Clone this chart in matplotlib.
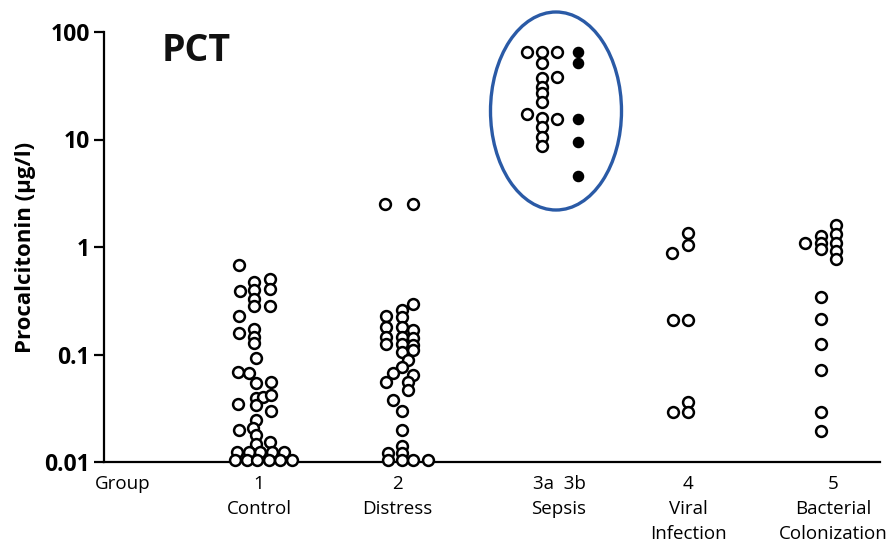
import matplotlib

matplotlib.use("Agg")
import matplotlib.pyplot as plt
from matplotlib.patches import Ellipse

# PCT values (ug/l)
control = [0.68, 0.475, 0.50, 0.39, 0.40, 0.41, 0.33, 0.28, 0.285, 0.228,
           0.157, 0.171, 0.146, 0.127, 0.092, 0.069, 0.067, 0.054, 0.056,
           0.035, 0.039, 0.040, 0.042, 0.034, 0.030, 0.0246, 0.0199, 0.0206,
           0.0178, 0.0147, 0.0155,
           0.0124, 0.0124, 0.0124, 0.0124, 0.0124,
           0.0104, 0.0104, 0.0104, 0.0104, 0.0104, 0.0104]
distress = [2.5, 2.5, 0.295, 0.259, 0.228, 0.225, 0.181, 0.181, 0.169,
            0.146, 0.146, 0.141, 0.125, 0.125, 0.123, 0.106, 0.110, 0.089,
            0.077, 0.067, 0.064, 0.055, 0.056, 0.047, 0.038, 0.030, 0.020,
            0.0141, 0.0121, 0.0121, 0.0104, 0.0104, 0.0104, 0.0104]
sepsis_3a = [65, 65, 65, 51, 37, 38.4, 31, 26.9, 22.5, 17.1, 15.7, 15.5,
             13.2, 10.6, 8.7]
sepsis_3b = [65, 51, 15.5, 9.5, 4.6]
viral = [1.34, 1.04, 0.885, 0.21, 0.21, 0.036, 0.0294, 0.029]
bacterial = [1.60, 1.32, 1.26, 1.08, 1.08, 1.08, 0.95, 0.925, 0.77,
             0.34, 0.214, 0.124, 0.072, 0.0294, 0.0196]

y_ticks = [0.01, 0.1, 1, 10, 100]
y_ticklabels = ["0.01", "0.1", "1", "10", "100"]
x_labels = ["Group", "1\nControl", "2\nDistress", "3a  3b\nSepsis",
            "4\nViral\nInfection", "5\nBacterial\nColonization"]

# layout: x runs in pixel units across the axes, swarm offsets per point
label_x = [123, 259, 397, 559, 688, 833]
control_dx = [-16, -1, 15, -15, -1, 15, -1, -1, 15, -16, -16, -1, -1, -1, 1,
              -17, -6, 1, 16, -17, 1, 8, 16, 1, 16, 1, -16, -2, 1, 1, 15,
              -18, -6, 5, 17, 29, -20, -8, 2, 14, 25, 37]
distress_dx = [-15, 13, 13, 2, -14, 2, -14, 2, 13, -14, 2, 13, -14, 2, 13,
               2, 13, 8, 2, -7, 13, -14, 8, 8, -7, 2, 2, 2, -12, 2,
               -12, 2, 13, 28]
sepsis_3a_dx = [-15, 0, 15, 0, 0, 15, 0, 0, 0, -15, 0, 15, 0, 0, 0]
viral_dx = [8, 8, -8, -7, 8, 8, -7, 8]
bacterial_dx = [15, 15, 0, -16, 0, 15, 0, 15, 15, 0, 0, 0, 0, 0, 0]

W, H = 894, 544
fig = plt.figure(figsize=(W / 100, H / 100), dpi=100)
ax = fig.add_axes([104 / W, 1 - 462 / H, 776 / W, 430 / H])

label_font = ["Open Sans", "DejaVu Sans"]
open_style = dict(marker="o", ms=7.8, mfc="white", mec="black", mew=1.8,
                  ls="none", clip_on=False, zorder=3)

groups = [(255, control, control_dx), (400, distress, distress_dx),
          (542, sepsis_3a, sepsis_3a_dx), (680, viral, viral_dx),
          (821, bacterial, bacterial_dx)]
for center, vals, dx in groups:
    ax.plot([center + d for d in dx], vals, **open_style)

ax.plot([578] * len(sepsis_3b), sepsis_3b, marker="o", ms=7.3, mfc="black",
        mec="black", ls="none", clip_on=False, zorder=3)

ax.set_yscale("log")
ax.set_ylim(0.01, 100)
ax.set_xlim(104, 880)
ax.set_yticks(y_ticks)
ax.set_yticklabels(y_ticklabels)
ax.minorticks_off()
ax.set_xticks([])
ax.tick_params(axis="y", length=7, width=1.6, pad=3, labelsize=16.5)
for lab in ax.get_yticklabels():
    lab.set_fontweight("bold")
    lab.set_family(label_font)

for side in ["top", "right"]:
    ax.spines[side].set_visible(False)
ax.spines["left"].set_linewidth(1.6)
ax.spines["bottom"].set_linewidth(1.6)

ax.set_ylabel("Procalcitonin (µg/l)", fontsize=16, fontweight="bold",
              family=label_font, labelpad=6)

for x, text in zip(label_x, x_labels):
    ax.text(x, -0.03, text, transform=ax.get_xaxis_transform(),
            ha="center", va="top", fontsize=13.5, family=label_font,
            linespacing=1.5)

fig.text(162 / W, 1 - 51 / H, "PCT", fontsize=27, fontweight="bold",
         family=label_font, color="#111111", va="center")

ax.add_patch(Ellipse(((556 - 104) / 776, (462 - 111) / 430), 131 / 776,
                     198 / 430, transform=ax.transAxes, fill=False,
                     ec="#2a5aa6", lw=2.4, clip_on=False, zorder=2))

fig.savefig("out.png", dpi=100)
